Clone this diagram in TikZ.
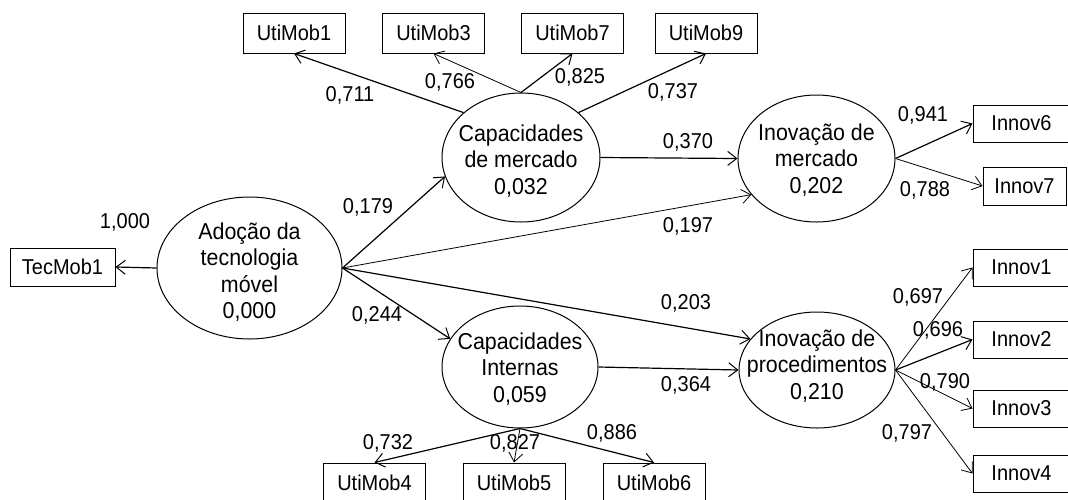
\documentclass[tikz,border=0pt]{standalone}
\usepackage{fontspec}
\setmainfont{Liberation Sans}[FakeStretch=0.93]
\usetikzlibrary{shapes.geometric,arrows.meta}
\begin{document}
\begin{tikzpicture}[x=1pt,y=-1pt,
  lat/.style={draw,ellipse,inner sep=0pt,line width=1pt},
  lattext/.style={align=center,inner sep=0pt,font=\fontsize{23}{26.5}\selectfont},
  obs/.style={draw,rectangle,inner sep=0pt,line width=1pt,font=\fontsize{21.5}{24}\selectfont},
  coef/.style={inner sep=0pt,font=\fontsize{21.5}{24}\selectfont},
  conn/.style={line width=1.2pt,-{Straight Barb[length=9pt,width=14pt,line width=1pt]}},
  connthin/.style={line width=0.8pt,-{Straight Barb[length=9pt,width=14pt,line width=0.8pt]}}
]
\fill[white] (0,0) rectangle (1068,499);
\useasboundingbox (0,0) rectangle (1068,499);

% latent variables
\node[lat,minimum width=185pt,minimum height=142pt] (ado) at (249.5,268) {};
\node[lattext] (adoT) at (249.5,272) {Adoção da\\tecnologia\\móvel\\0,000};
\node[lat,minimum width=158pt,minimum height=129pt] (capm) at (521,157.5) {};
\node[lattext] (capmT) at (521,161) {Capacidades\\de mercado\\0,032};
\node[lat,minimum width=156pt,minimum height=122pt] (capi) at (520,367) {};
\node[lattext] (capiT) at (520,369) {Capacidades\\Internas\\0,059};
\node[lat,minimum width=157pt,minimum height=127pt] (inm) at (816.5,158.5) {};
\node[lattext] (inmT) at (816.5,160) {Inovação de\\mercado\\0,202};
\node[lat,minimum width=156pt,minimum height=116pt] (inp) at (817,370) {};
\node[lattext] (inpT) at (817,366) {Inovação de\\procedimentos\\0,210};

% indicators
\node[obs,minimum width=105pt,minimum height=38pt] (tec) at (62.5,267) {TecMob1};
\node[obs,minimum width=102pt,minimum height=40pt] (u1) at (294,33) {UtiMob1};
\node[obs,minimum width=102pt,minimum height=40pt] (u3) at (433.5,33) {UtiMob3};
\node[obs,minimum width=102pt,minimum height=40pt] (u7) at (572.5,33) {UtiMob7};
\node[obs,minimum width=102pt,minimum height=40pt] (u9) at (706,33) {UtiMob9};
\node[obs,minimum width=102pt,minimum height=40pt] (u4) at (374.5,483) {UtiMob4};
\node[obs,minimum width=102pt,minimum height=40pt] (u5) at (514,483) {UtiMob5};
\node[obs,minimum width=102pt,minimum height=40pt] (u6) at (654,483) {UtiMob6};
\node[obs,minimum width=97pt,minimum height=37pt] (i6) at (1021.5,123.5) {Innov6};
\node[obs,minimum width=83pt,minimum height=38pt] (i7) at (1024.5,186) {Innov7};
\node[obs,minimum width=97pt,minimum height=37pt] (i1) at (1021.5,267.5) {Innov1};
\node[obs,minimum width=97pt,minimum height=37pt] (i2) at (1021.5,339.5) {Innov2};
\node[obs,minimum width=97pt,minimum height=37pt] (i3) at (1021.5,408.5) {Innov3};
\node[obs,minimum width=97pt,minimum height=37pt] (i4) at (1021.5,473.5) {Innov4};

% connectors
\draw[conn] (ado.west) -- (tec.east);
\draw[conn] (ado.east) -- (capm.194);
\draw[conn] (ado.east) -- (capi.158);
\draw[connthin] (ado.east) -- (inm.209);
\draw[conn] (ado.east) -- (inp.155);
\draw[conn] (capm.142.5) -- (u1.south);
\draw[connthin] (capm.north) -- (u3.south);
\draw[conn] (capm.north) -- (u7.south);
\draw[conn] (capm.38.5) -- (u9.south);
\draw[conn] (capm.east) -- (inm.west);
\draw[conn] (capi.east) -- (inp.west);
\draw[conn] (capi.south) -- (u4.north);
\draw[connthin] (capi.south) -- (u5.north);
\draw[conn] (capi.south) -- (u6.north);
\draw[conn] (inm.east) -- (i6.west);
\draw[connthin] (inm.east) -- (i7.west);
\draw[connthin] (inp.east) -- (i1.west);
\draw[conn] (inp.east) -- (i2.west);
\draw[connthin] (inp.east) -- (i3.west);
\draw[connthin] (inp.east) -- (i4.west);

% coefficients
\node[coef] (c1000) at (125,222) {1,000};
\node[coef] (c179) at (368,207) {0,179};
\node[coef] (c244) at (377,315) {0,244};
\node[coef] (c711) at (350,95) {0,711};
\node[coef] (c766) at (450,82) {0,766};
\node[coef] (c825) at (580,77) {0,825};
\node[coef] (c737) at (673,92) {0,737};
\node[coef] (c370) at (688,142) {0,370};
\node[coef] (c197) at (688,226) {0,197};
\node[coef] (c203) at (686,303) {0,203};
\node[coef] (c364) at (686,385) {0,364};
\node[coef] (c941) at (923,115) {0,941};
\node[coef] (c788) at (925,190) {0,788};
\node[coef] (c697) at (918,297) {0,697};
\node[coef] (c696) at (938,330) {0,696};
\node[coef] (c790) at (945,382) {0,790};
\node[coef] (c797) at (907,433) {0,797};
\node[coef] (c732) at (388,443) {0,732};
\node[coef] (c827) at (515,443) {0,827};
\node[coef] (c886) at (612,433) {0,886};
\end{tikzpicture}
\end{document}
